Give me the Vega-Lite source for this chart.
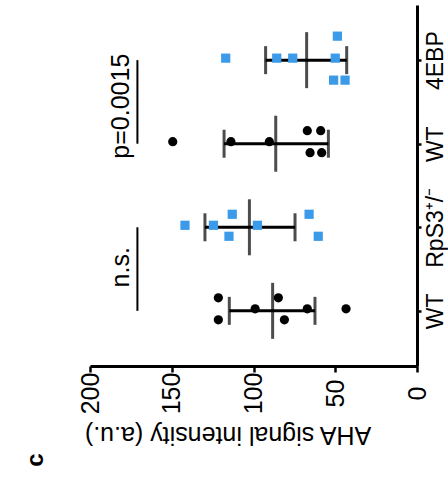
{
  "$schema": "https://vega.github.io/schema/vega-lite/v6.json",
  "width": 327,
  "height": 361,
  "autosize": "none",
  "padding": {"left": 90, "top": 5, "right": 31, "bottom": 114},
  "background": "white",
  "config": {
    "view": {"stroke": null},
    "font": "Liberation Sans",
    "axis": {"grid": false}
  },
  "title": {
    "text": "c",
    "orient": "bottom",
    "anchor": "start",
    "frame": "group",
    "angle": 270,
    "align": "center",
    "baseline": "middle",
    "offset": 14,
    "dy": -54,
    "fontSize": 24,
    "fontWeight": "bold",
    "color": "black"
  },
  "datasets": {
    "points": [
      {"group": "4EBP", "genotype": "mutant", "value": 117, "lane": 0},
      {"group": "4EBP", "genotype": "mutant", "value": 85.8, "lane": 0},
      {"group": "4EBP", "genotype": "mutant", "value": 76, "lane": 0},
      {"group": "4EBP", "genotype": "mutant", "value": 50, "lane": 0},
      {"group": "4EBP", "genotype": "mutant", "value": 48.7, "lane": -2},
      {"group": "4EBP", "genotype": "mutant", "value": 51, "lane": 2},
      {"group": "4EBP", "genotype": "mutant", "value": 44, "lane": 2},
      {"group": "WT-2", "genotype": "WT", "value": 149.4, "lane": 0},
      {"group": "WT-2", "genotype": "WT", "value": 113.8, "lane": 0},
      {"group": "WT-2", "genotype": "WT", "value": 90.3, "lane": 0},
      {"group": "WT-2", "genotype": "WT", "value": 67.1, "lane": -1},
      {"group": "WT-2", "genotype": "WT", "value": 58.9, "lane": -1},
      {"group": "WT-2", "genotype": "WT", "value": 65.4, "lane": 1},
      {"group": "WT-2", "genotype": "WT", "value": 58.3, "lane": 1},
      {"group": "RpS3", "genotype": "mutant", "value": 141.9, "lane": 0},
      {"group": "RpS3", "genotype": "mutant", "value": 124.5, "lane": 0},
      {"group": "RpS3", "genotype": "mutant", "value": 113, "lane": -1},
      {"group": "RpS3", "genotype": "mutant", "value": 115, "lane": 1},
      {"group": "RpS3", "genotype": "mutant", "value": 97.6, "lane": 0},
      {"group": "RpS3", "genotype": "mutant", "value": 66, "lane": -1},
      {"group": "RpS3", "genotype": "mutant", "value": 60.4, "lane": 1},
      {"group": "WT-1", "genotype": "WT", "value": 121.5, "lane": -1},
      {"group": "WT-1", "genotype": "WT", "value": 121.5, "lane": 1},
      {"group": "WT-1", "genotype": "WT", "value": 99, "lane": 0},
      {"group": "WT-1", "genotype": "WT", "value": 84.8, "lane": -1},
      {"group": "WT-1", "genotype": "WT", "value": 81.1, "lane": 1},
      {"group": "WT-1", "genotype": "WT", "value": 67.1, "lane": 0},
      {"group": "WT-1", "genotype": "WT", "value": 43.4, "lane": 0}
    ],
    "summary": [
      {"group": "4EBP", "value": 67.5, "lo": 43, "hi": 92.6},
      {"group": "WT-2", "value": 86.4, "lo": 54.2, "hi": 118},
      {"group": "RpS3", "value": 102.5, "lo": 74.6, "hi": 129.7},
      {"group": "WT-1", "value": 88.3, "lo": 62.4, "hi": 114.8}
    ],
    "brackets": [
      {"group": "4EBP", "group2": "WT-2", "value": 171, "label": "p=0.0015", "textValue": 181},
      {"group": "RpS3", "group2": "WT-1", "value": 171, "label": "n.s.", "textValue": 181}
    ]
  },
  "encoding": {
    "x": {
      "field": "value",
      "type": "quantitative",
      "scale": {"domain": [0, 200], "reverse": true, "nice": false, "zero": true},
      "axis": {
        "values": [0, 50, 100, 150, 200],
        "title": "AHA signal intensity (a.u.)",
        "domainWidth": 3,
        "domainColor": "black",
        "tickColor": "black",
        "tickWidth": 2.5,
        "tickSize": 6,
        "labelAngle": 270,
        "labelAlign": "center",
        "labelBaseline": "middle",
        "labelPadding": 21,
        "labelFontSize": 25,
        "labelColor": "black",
        "labelFlush": false,
        "labelOverlap": false,
        "titleFontSize": 25,
        "titleFontWeight": "normal",
        "titleColor": "black",
        "titleAngle": 180,
        "titleAlign": "center",
        "titleBaseline": "middle",
        "titleX": 137.5,
        "titleY": 68
      }
    },
    "y": {
      "field": "group",
      "type": "nominal",
      "scale": {"type": "point", "domain": ["4EBP", "WT-2", "RpS3", "WT-1"], "padding": 0.66},
      "axis": {
        "orient": "right",
        "title": null,
        "domainWidth": 3,
        "domainColor": "black",
        "tickColor": "black",
        "tickWidth": 2.5,
        "tickSize": 4,
        "labelAngle": 270,
        "labelAlign": "center",
        "labelBaseline": "middle",
        "labelPadding": 14,
        "labelFontSize": 23,
        "labelColor": "black",
        "labelOverlap": false,
        "labelExpr": "datum.value == 'RpS3' ? 'RpS3⁺/⁻' : (datum.value == '4EBP' ? '4EBP' : 'WT')"
      }
    }
  },
  "layer": [
    {
      "data": {"name": "brackets"},
      "mark": {"type": "rule", "strokeWidth": 2, "color": "black"},
      "encoding": {"y2": {"field": "group2"}}
    },
    {
      "data": {"name": "brackets"},
      "transform": [{"filter": "datum.label == 'p=0.0015'"}],
      "mark": {"type": "text", "angle": 270, "fontSize": 25, "align": "center", "baseline": "middle", "yOffset": 46, "color": "black"},
      "encoding": {"x": {"field": "textValue", "type": "quantitative"}, "text": {"field": "label"}}
    },
    {
      "data": {"name": "brackets"},
      "transform": [{"filter": "datum.label == 'n.s.'"}],
      "mark": {"type": "text", "angle": 270, "fontSize": 25, "align": "center", "baseline": "middle", "yOffset": 40, "color": "black"},
      "encoding": {"x": {"field": "textValue", "type": "quantitative"}, "text": {"field": "label"}}
    },
    {
      "data": {"name": "summary"},
      "mark": {"type": "rule", "strokeWidth": 3, "color": "black"},
      "encoding": {"x": {"field": "lo", "type": "quantitative"}, "x2": {"field": "hi"}}
    },
    {
      "data": {"name": "summary"},
      "mark": {"type": "tick", "size": 28, "thickness": 3, "color": "black", "orient": "vertical"},
      "encoding": {"x": {"field": "lo", "type": "quantitative"}}
    },
    {
      "data": {"name": "summary"},
      "mark": {"type": "tick", "size": 28, "thickness": 3, "color": "black", "orient": "vertical"},
      "encoding": {"x": {"field": "hi", "type": "quantitative"}}
    },
    {
      "data": {"name": "summary"},
      "mark": {"type": "tick", "size": 56, "thickness": 3, "color": "black", "orient": "vertical"}
    },
    {
      "data": {"name": "points"},
      "mark": {"type": "point", "filled": true, "size": 85, "opacity": 1, "strokeWidth": 0},
      "encoding": {
        "yOffset": {"field": "lane", "type": "quantitative", "scale": {"domain": [-1, 1], "range": [-13, 9]}},
        "color": {"field": "genotype", "type": "nominal", "scale": {"domain": ["WT", "mutant"], "range": ["black", "#3b9be9"]}, "legend": null},
        "shape": {"field": "genotype", "type": "nominal", "scale": {"domain": ["WT", "mutant"], "range": ["circle", "square"]}, "legend": null}
      }
    }
  ]
}
